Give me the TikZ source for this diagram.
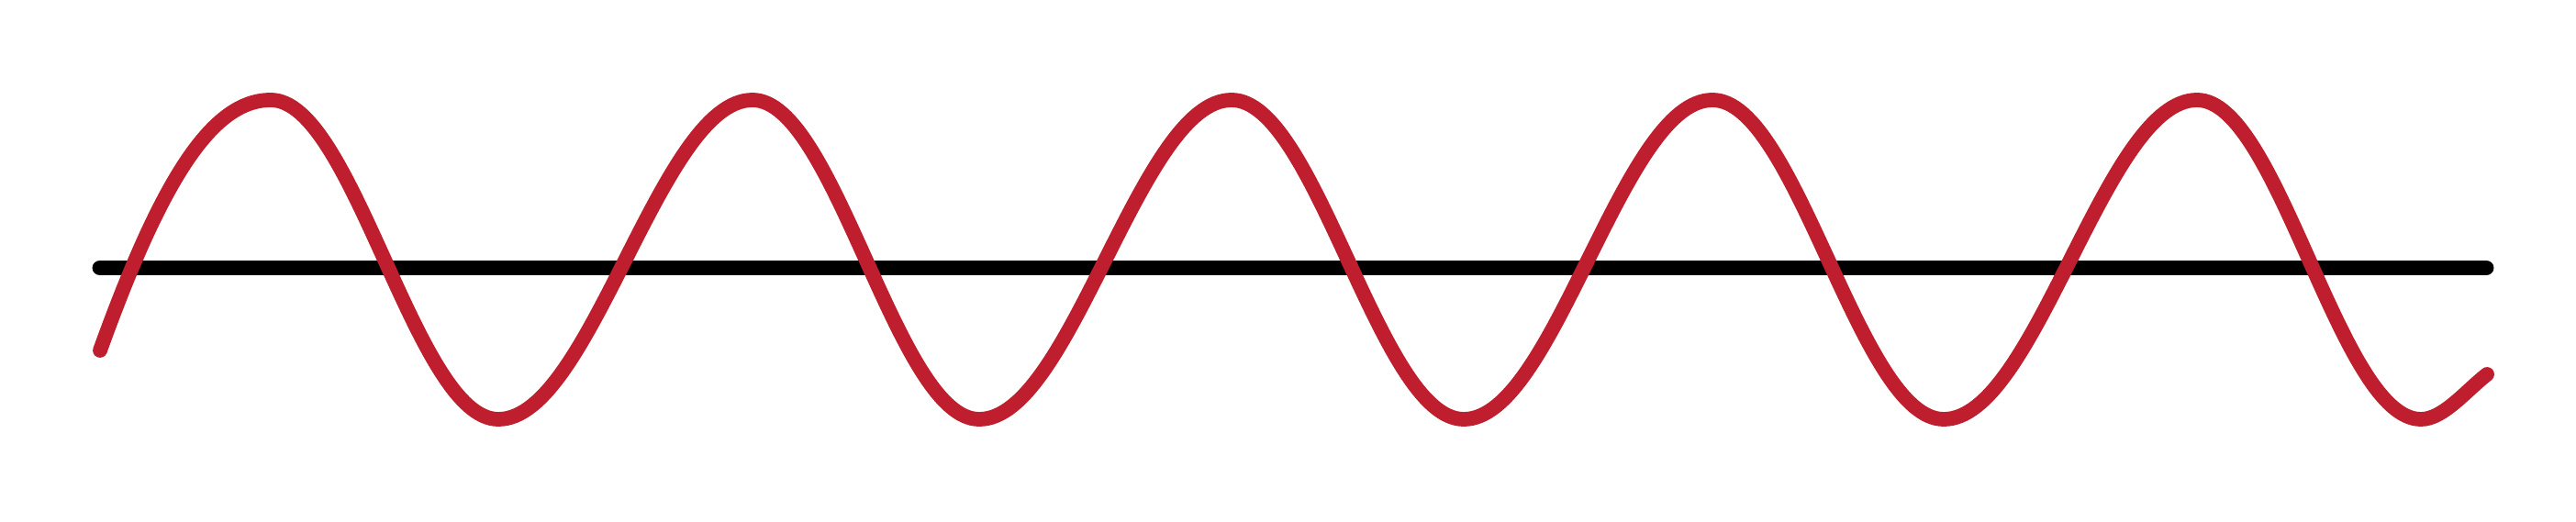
\documentclass[tikz,border=0pt]{standalone}
\usetikzlibrary{positioning}
\definecolor{wavered}{RGB}{190,30,45}
\tikzset{
  axisline/.style={line width=4.8pt, line cap=round, black},
  waveline/.style={line width=4.5pt, line cap=round, wavered}
}
\begin{document}
\begin{tikzpicture}
  \useasboundingbox (0,0) rectangle (28.07,5.69);
  % axis
  \coordinate (axl) at (1.09,2.77);
  \coordinate (axr) at (27.09,2.77);
  \draw[axisline] (axl) -- (axr);
  % wave
  \draw[waveline] (1.09,1.87) .. controls (1.75,3.70) and (2.30,4.60) .. (2.95,4.60)
    cos (4.19,2.86) sin (5.43,1.12)
    cos (6.815,2.86) sin (8.20,4.60)
    cos (9.435,2.86) sin (10.67,1.12)
    cos (12.045,2.86) sin (13.42,4.60)
    cos (14.685,2.86) sin (15.95,1.12)
    cos (17.305,2.86) sin (18.66,4.60)
    cos (19.92,2.86) sin (21.18,1.12)
    cos (22.56,2.86) sin (23.94,4.60)
    cos (25.16,2.86) sin (26.38,1.12)
    .. controls (26.62,1.12) and (26.86,1.42) .. (27.10,1.61);
\end{tikzpicture}
\end{document}
